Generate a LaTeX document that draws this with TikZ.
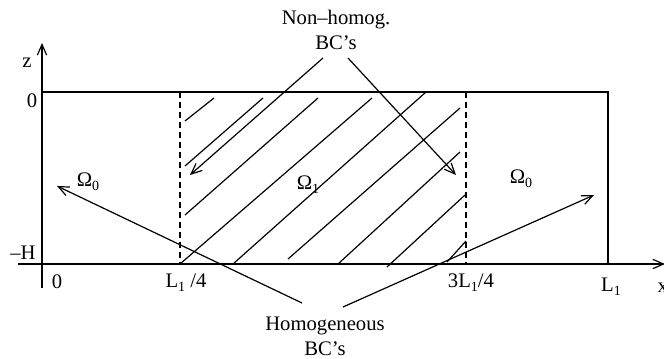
\documentclass[tikz,border=0pt]{standalone}
\usepackage{fontspec}
\setmainfont{Liberation Serif}
\usetikzlibrary{arrows.meta}
\newcommand\lsub[1]{\raisebox{-0.45ex}{\fontsize{10.5}{11}\selectfont#1}}
\tikzset{
  lbl/.style={inner sep=0pt,font=\fontsize{15.5}{19}\selectfont},
  bc/.style={lbl,align=center},
  hatch/.style={line width=0.9pt},
  tip/.style={-{Straight Barb[length=8pt,width=7pt]}},
  bcarrow/.style={tip,line width=0.9pt}
}

\begin{document}
\begin{tikzpicture}[x=0.75pt,y=-0.75pt,line width=0.9pt]
\useasboundingbox (0,0) rectangle (664,358);
% axes and domain
\draw[tip] (42,288) -- (42,43);
\draw[tip] (18,264) -- (665,264);
\draw (42,92) -- (608,92) -- (608,264);
\draw[dash pattern=on 4.5pt off 3pt] (180,92) -- (180,264);
\draw[dash pattern=on 4.5pt off 3pt] (466,92) -- (466,264);
% hatching of Omega_1
\foreach \xa/\ya/\xb/\yb in {185/121/214/98, 185/166/263/98, 185/215/318/98,
  180/264/372/98, 233/264/426/92, 288/259/460/108, 338/264/460/152,
  387/267/465/195, 447/262/466/241}
  \draw[hatch] (\xa,\ya) -- (\xb,\yb);
% labels
\node[lbl] (z) at (27,63) {z};
\node[lbl] (ztop) at (32,101) {0};
\node[lbl] (mh) at (23,253) {–H};
\node[lbl] (xo) at (57,282) {0};
\node[lbl] (qa) at (186,283) {L\lsub{1} /4};
\node[lbl] (qb) at (471,283) {3L\lsub{1}/4};
\node[lbl] (lone) at (611,287) {L\lsub{1}};
\node[lbl,anchor=west] (x) at (657,288) {x};
\node[lbl] (om0a) at (88,182) {Ω\lsub{0}};
\node[lbl] (om1) at (308,185) {Ω\lsub{1}};
\node[lbl] (om0b) at (521,179) {Ω\lsub{0}};
\node[bc] (nh) at (336,30) {Non–homog.\\BC’s};
\node[bc] (hom) at (325,336) {Homogeneous\\BC’s};
% arrow ends
\coordinate (nha) at (323,58);
\coordinate (nhb) at (348,58);
\coordinate (nhta) at (190,175);
\coordinate (nhtb) at (456,175);
\coordinate (ha) at (302,303);
\coordinate (hb) at (343,307);
\coordinate (hta) at (57,186);
\coordinate (htb) at (594,195);
\draw[bcarrow] (nha) -- (nhta);
\draw[bcarrow] (nhb) -- (nhtb);
\draw[bcarrow] (ha) -- (hta);
\draw[bcarrow] (hb) -- (htb);
\end{tikzpicture}
\end{document}
